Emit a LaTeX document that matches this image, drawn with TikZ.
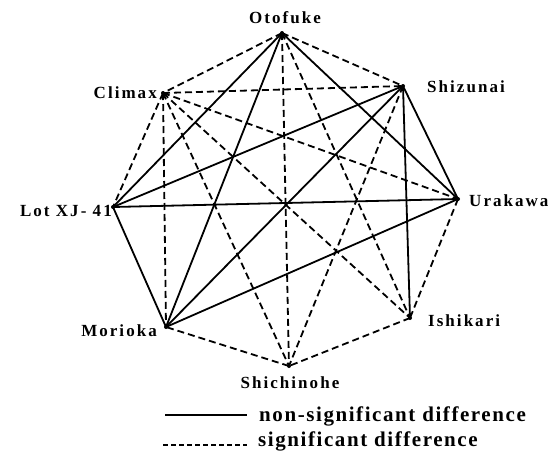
\documentclass[tikz,border=0pt]{standalone}
\usepackage{fontspec}
\newfontfamily\lblfont{Liberation Serif}[LetterSpace=12]
\newfontfamily\legfont{Liberation Serif}[LetterSpace=7.5]
\begin{document}
\begin{tikzpicture}[x=1pt,y=-1pt,
  ns/.style={line width=1.8pt},
  sig/.style={line width=1.8pt,dash pattern=on 7pt off 4pt},
  lbl/.style={font=\lblfont\bfseries\fontsize{17}{17}\selectfont,inner sep=0pt},
  leg/.style={font=\legfont\bfseries\fontsize{21}{21}\selectfont,inner sep=0pt,anchor=base west},
  vdot/.style={circle,fill=black,inner sep=0pt,minimum size=4pt}]
\useasboundingbox (0,0) rectangle (556,451);
% vertices
\coordinate (O) at (282,33);
\coordinate (Sz) at (403,86);
\coordinate (U) at (458,199);
\coordinate (I) at (410,318);
\coordinate (Sh) at (289,366);
\coordinate (M) at (166,327);
\coordinate (L) at (113,207);
\coordinate (C) at (163,93);
% non-significant
\draw[ns] (O) -- (U);
\draw[ns] (O) -- (M);
\draw[ns] (O) -- (L);
\draw[ns] (Sz) -- (L);
\draw[ns] (Sz) -- (M);
\draw[ns] (Sz) -- (I);
\draw[ns] (Sz) -- (U);
\draw[ns] (U) -- (L);
\draw[ns] (U) -- (M);
\draw[ns] (M) -- (L);
% significant
\draw[sig] (O) -- (C);
\draw[sig] (O) -- (Sz);
\draw[sig] (O) -- (I);
\draw[sig] (O) -- (Sh);
\draw[sig] (C) -- (Sz);
\draw[sig] (C) -- (U);
\draw[sig] (C) -- (I);
\draw[sig] (C) -- (Sh);
\draw[sig] (C) -- (M);
\draw[sig] (C) -- (L);
\draw[sig] (Sz) -- (Sh);
\draw[sig] (U) -- (I);
\draw[sig] (I) -- (Sh);
\draw[sig] (Sh) -- (M);
% vertex dots
\foreach \v in {O,Sz,U,I,Sh,M,L,C} \node[vdot] at (\v) {};
% labels
\node[lbl,anchor=base] (tO) at (285,23) {Otofuke};
\node[lbl,anchor=base west] (tSz) at (427,92) {Shizunai};
\node[lbl,anchor=base west] (tU) at (469,206) {Urakawa};
\node[lbl,anchor=base west] (tI) at (428,326) {Ishikari};
\node[lbl,anchor=base] (tSh) at (290,388) {Shichinohe};
\node[lbl,anchor=base east] (tM) at (157,336) {Morioka};
\node[lbl,anchor=base east] (tL) at (112,216) {Lot XJ-~41};
\node[lbl,anchor=base east] (tC) at (157,98) {Climax};
% legend
\coordinate (l1a) at (165,415);
\coordinate (l1b) at (247,415);
\coordinate (l2a) at (163,445);
\coordinate (l2b) at (247,445);
\draw[line width=1.4pt] (l1a) -- (l1b);
\draw[line width=1.4pt,dash pattern=on 5pt off 3pt] (l2a) -- (l2b);
\node[leg] (g1) at (259,421) {non-significant difference};
\node[leg] (g2) at (258,446) {significant difference};
\end{tikzpicture}
\end{document}
